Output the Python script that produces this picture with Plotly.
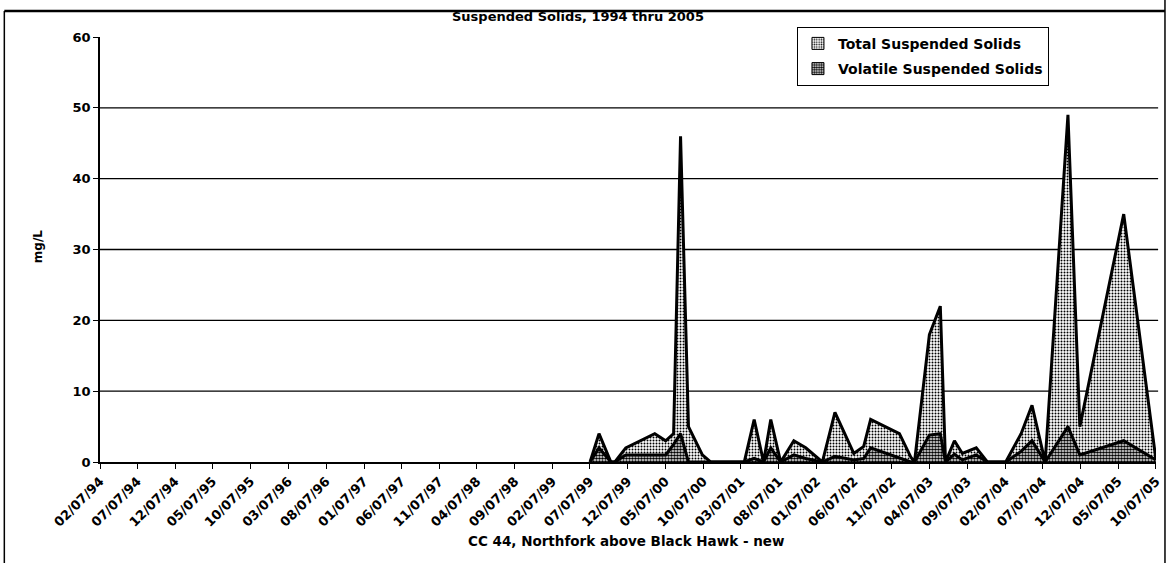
import pandas as pd
import plotly.graph_objects as go

# Sampling dates and measured concentrations (mg/L)
sample_dates = [
    "1999-07-08", "1999-08-13", "1999-09-30", "1999-10-16", "1999-11-29",
    "2000-03-25", "2000-05-08", "2000-06-09", "2000-07-07", "2000-08-08",
    "2000-10-03", "2000-11-05", "2001-03-21", "2001-04-30", "2001-06-07",
    "2001-07-06", "2001-08-15", "2001-10-07", "2001-11-24", "2002-01-30",
    "2002-03-22", "2002-06-06", "2002-07-16", "2002-08-13", "2002-12-07",
    "2003-01-22", "2003-02-06", "2003-04-07", "2003-05-21", "2003-06-11",
    "2003-07-17", "2003-08-18", "2003-10-13", "2003-11-27", "2004-02-09",
    "2004-04-11", "2004-05-25", "2004-07-17", "2004-10-17", "2004-12-04",
    "2005-05-30", "2005-10-07",
]
total_ss = [
    0, 4, 0, 0, 2,
    4, 3, 4, 46, 5,
    1, 0, 0, 6, 0,
    6, 0, 3, 2, 0,
    7, 1.2, 2.2, 6, 4,
    0.7, 0, 18, 22, 0,
    3, 1.2, 2, 0, 0,
    4, 8, 0, 49, 5,
    35, 0.3,
]
volatile_ss = [
    0, 2, 0, 0, 1,
    1, 1, 2.5, 4, 0,
    0, 0, 0, 0.5, 0,
    2, 0, 1, 0.5, 0,
    0.8, 0.3, 0.5, 2, 0.5,
    0, 0, 3.8, 4, 0,
    1.1, 0.3, 1, 0, 0,
    1.5, 3, 0, 5, 1,
    3, 0.3,
]

tick_labels = [
    "02/07/94", "07/07/94", "12/07/94", "05/07/95", "10/07/95", "03/07/96",
    "08/07/96", "01/07/97", "06/07/97", "11/07/97", "04/07/98", "09/07/98",
    "02/07/99", "07/07/99", "12/07/99", "05/07/00", "10/07/00", "03/07/01",
    "08/07/01", "01/07/02", "06/07/02", "11/07/02", "04/07/03", "09/07/03",
    "02/07/04", "07/07/04", "12/07/04", "05/07/05", "10/07/05",
]
y_ticks = [0, 10, 20, 30, 40, 50, 60]
y_grid = [10, 20, 30, 40, 50]

FONT = "DejaVu Sans"
tick_dates = pd.to_datetime(tick_labels, format="%m/%d/%y")
dates = pd.to_datetime(sample_dates)

LIGHT = 0.35   # stipple density, total solids
DARK = 0.65    # stipple density, volatile solids

fig = go.Figure()

fig.add_trace(go.Scatter(
    x=dates, y=total_ss, mode="lines", name="Total Suspended Solids",
    line=dict(color="black", width=3),
    fill="tozeroy", fillcolor="white",
    fillpattern=dict(shape=".", fgcolor="black", bgcolor="white",
                     size=3, solidity=LIGHT, fillmode="replace"),
    showlegend=False,
))
fig.add_trace(go.Scatter(
    x=dates, y=volatile_ss, mode="lines", name="Volatile Suspended Solids",
    line=dict(color="black", width=3),
    fill="tozeroy", fillcolor="white",
    fillpattern=dict(shape=".", fgcolor="black", bgcolor="white",
                     size=3, solidity=DARK, fillmode="replace"),
    showlegend=False,
))

# square legend keys
for name, sol, grp in [("Total Suspended Solids", LIGHT, "a"),
                       ("Volatile Suspended Solids", DARK, "b")]:
    fig.add_trace(go.Bar(
        x=[None], y=[None], name=name, legendgroup=grp,
        marker=dict(color="white", line=dict(color="black", width=1),
                    pattern=dict(shape=".", fgcolor="black", bgcolor="white",
                                 size=3, solidity=sol, fillmode="replace")),
    ))

for g in y_grid:
    fig.add_shape(type="line", xref="paper", x0=0, x1=1.002, yref="y",
                  y0=g, y1=g, line=dict(color="black", width=1.3),
                  layer="below")

# page frame
frame = dict(color="black", width=1.5)
fig.add_shape(type="line", xref="paper", yref="paper",
              x0=-0.0906, x1=1.0085, y0=1.0612, y1=1.0612,
              line=dict(color="black", width=2.5))
fig.add_shape(type="line", xref="paper", yref="paper",
              x0=-0.0906, x1=-0.0906, y0=1.0612, y1=-0.24, line=frame)
fig.add_shape(type="line", xref="paper", yref="paper",
              x0=1.0085, x1=1.0085, y0=1.09, y1=-0.24, line=frame)

pad = pd.Timedelta(hours=6)
fig.update_xaxes(
    type="date", range=[tick_dates[0] - pad, tick_dates[-1] + pad],
    tickmode="array", tickvals=tick_dates, ticktext=tick_labels,
    tickangle=-45, ticks="outside", ticklen=5, tickwidth=1.2,
    tickcolor="black", showline=True, linecolor="black", linewidth=1.5,
    showgrid=False, zeroline=False,
    tickfont=dict(family=FONT, size=13, color="black", weight="bold"),
)
fig.update_yaxes(
    range=[0, 60], tickmode="array", tickvals=y_ticks,
    ticks="outside", ticklen=5, tickwidth=1.2, tickcolor="black",
    showline=True, linecolor="black", linewidth=1.5,
    showgrid=False, zeroline=False,
    tickfont=dict(family=FONT, size=13, color="black", weight="bold"),
)

fig.add_annotation(
    text="Suspended Solids, 1994 thru 2005", xref="paper", yref="paper",
    x=0.453, y=1.049, xanchor="center", yanchor="middle", showarrow=False,
    font=dict(family=FONT, size=13, color="black", weight="bold"),
)
fig.add_annotation(
    text="mg/L", xref="paper", yref="paper", textangle=-90,
    x=-0.0585, y=0.506, xanchor="center", yanchor="middle", showarrow=False,
    font=dict(family=FONT, size=12, color="black", weight="bold"),
)
fig.add_annotation(
    text="CC 44, Northfork above Black Hawk - new", xref="paper",
    yref="paper", x=0.498, y=-0.186, xanchor="center", yanchor="middle",
    showarrow=False,
    font=dict(family=FONT, size=13.5, color="black", weight="bold"),
)

fig.update_layout(
    width=1175, height=563,
    margin=dict(l=100, r=15, t=37, b=101),
    plot_bgcolor="white", paper_bgcolor="white",
    barmode="overlay",
    legend=dict(
        x=0.66, y=1.024, xanchor="left", yanchor="top",
        bordercolor="black", borderwidth=1, bgcolor="white",
        traceorder="grouped", tracegroupgap=4, itemwidth=30,
        font=dict(family=FONT, size=14, color="black", weight="bold"),
    ),
)

fig.write_html("out.html")
